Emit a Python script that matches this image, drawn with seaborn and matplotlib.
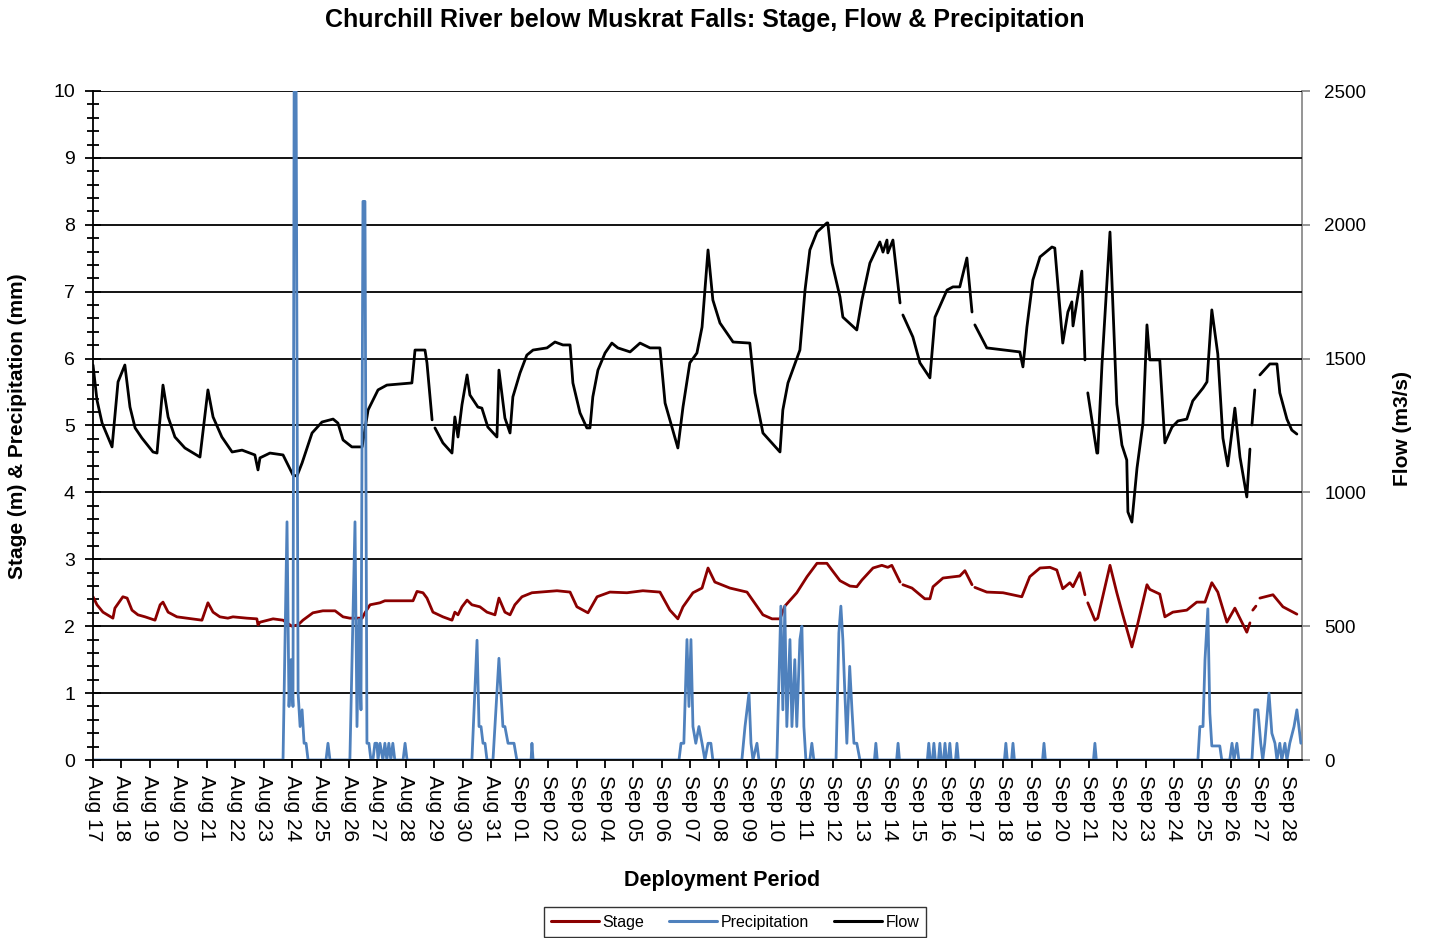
import numpy as np
import pandas as pd
import matplotlib
matplotlib.use("Agg")
import matplotlib.pyplot as plt
import seaborn as sns
from matplotlib.ticker import MultipleLocator
from matplotlib.lines import Line2D

# ---------------- data (day offsets from Aug 17 00:00) ----------------
tick_labels = ["Aug 17", "Aug 18", "Aug 19", "Aug 20", "Aug 21", "Aug 22", "Aug 23",
               "Aug 24", "Aug 25", "Aug 26", "Aug 27", "Aug 28", "Aug 29", "Aug 30",
               "Aug 31", "Sep 01", "Sep 02", "Sep 03", "Sep 04", "Sep 05", "Sep 06",
               "Sep 07", "Sep 08", "Sep 09", "Sep 10", "Sep 11", "Sep 12", "Sep 13",
               "Sep 14", "Sep 15", "Sep 16", "Sep 17", "Sep 18", "Sep 19", "Sep 20",
               "Sep 21", "Sep 22", "Sep 23", "Sep 24", "Sep 25", "Sep 26", "Sep 27",
               "Sep 28"]
tick_days = list(range(43))

nan = np.nan
flow_day = [0.00, 0.14, 0.32, 0.67, 0.88, 1.12, 1.30, 1.48, 1.72, 2.11, 2.25, 2.46, 2.64, 2.88,
            3.23, 3.76, 4.04, 4.22, 4.53, 4.89, 5.24, 5.69, 5.80, 5.87, 6.22, 6.68, 7.03, 7.17,
            7.35, 7.70, 8.05, 8.44, 8.61, 8.79, 9.10, 9.46, 9.67, 10.02, 10.33, 11.21, 11.32,
            11.67, 11.74, 11.92, 11.97, 12.02, 12.30, 12.62, 12.72, 12.83, 12.97, 13.15, 13.25,
            13.53, 13.67, 13.88, 14.20, 14.27, 14.48, 14.66, 14.76, 15.01, 15.25, 15.47, 15.96,
            16.24, 16.52, 16.77, 16.87, 17.12, 17.36, 17.47, 17.57, 17.75, 18.00, 18.24, 18.45,
            18.88, 19.23, 19.58, 19.93, 20.11, 20.56, 20.74, 20.98, 21.23, 21.41, 21.62, 21.79,
            22.04, 22.50, 23.09, 23.27, 23.55, 24.15, 24.25, 24.43, 24.85, 25.03, 25.20, 25.45,
            25.80, 25.83, 25.98, 26.26, 26.36, 26.85, 27.03, 27.31, 27.66, 27.77, 27.91, 27.94,
            28.12, 28.37, 28.42, 28.47, 28.82, 29.07, 29.42, 29.60, 30.02, 30.23, 30.47, 30.72,
            30.90, 30.95, 31.00, 31.42, 32.58, 32.69, 32.83, 33.04, 33.29, 33.71, 33.81, 34.09,
            34.27, 34.41, 34.45, 34.76, 34.87, 34.92, 34.97, 35.29, 35.32, 35.47, 35.75, 35.99,
            36.17, 36.34, 36.38, 36.52, 36.70, 36.91, 37.05, 37.15, 37.50, 37.68, 37.93, 38.14,
            38.45, 38.66, 39.02, 39.16, 39.33, 39.54, 39.72, 39.89, 40.14, 40.32, 40.56, 40.67,
            40.70, 40.74, 40.84, 40.92, 41.02, 41.37, 41.62, 41.72, 41.97, 42.14, 42.32]
flow_m3s = [1476, 1345, 1259, 1170, 1413, 1476, 1319, 1241, 1203, 1151, 1147, 1401, 1282, 1207,
            1166, 1132, 1383, 1282, 1207, 1151, 1158, 1140, 1084, 1129, 1147, 1140, 1065, 1061,
            1110, 1222, 1263, 1274, 1259, 1196, 1170, 1170, 1308, 1383, 1401, 1409, 1532,
            1532, 1484, 1271, nan, 1241, 1185, 1147, 1282, 1207, 1327, 1439, 1364,
            1319, 1315, 1244, 1207, 1457, 1278, 1222, 1357, 1446, 1513, 1532, 1540,
            1562, 1551, 1551, 1409, 1297, 1241, 1241, 1357, 1457, 1521, 1558, 1540,
            1525, 1558, 1540, 1540, 1334, 1166, 1319, 1484, 1521, 1618, 1906, 1719,
            1633, 1562, 1558, 1372, 1222, 1151, 1308, 1409, 1532, 1756, 1906, 1973,
            2007, 2007, 1857, 1730, 1655, 1607, 1719, 1857, 1936, 1898, 1943, 1895,
            1943, 1708, nan, 1663, 1581, 1484, 1428, 1655, 1756, 1768, 1768, 1876,
            1674, nan, 1626, 1540, 1525, 1469, 1618, 1794, 1880, 1917, 1913, 1558,
            1674, 1712, 1622, 1827, 1495, nan, 1372, 1147, 1147, 1480, 1973, 1330,
            1177, 1121, 927, 889, 1091, 1259, 1626, 1495, 1495, 1185, 1244, 1267,
            1274, 1342, 1390, 1413, 1682, 1517, 1203, 1099, 1315, 1132, 983, 1162,
            nan, 1252, 1383, nan, 1439, 1480, 1480, 1372, 1274, 1233, 1218]

stage_day = [0.00, 0.14, 0.35, 0.70, 0.77, 1.05, 1.20, 1.37, 1.58, 1.83, 2.18, 2.36, 2.46, 2.64,
             2.95, 3.30, 3.83, 4.04, 4.22, 4.46, 4.74, 4.92, 5.41, 5.76, 5.80, 5.87, 6.33, 6.68,
             6.99, 7.21, 7.38, 7.73, 8.08, 8.51, 8.79, 9.03, 9.46, 9.56, 9.74, 10.09, 10.26,
             11.25, 11.39, 11.60, 11.74, 11.95, 12.30, 12.62, 12.72, 12.83, 12.97, 13.15, 13.32,
             13.60, 13.85, 14.13, 14.27, 14.48, 14.66, 14.83, 15.08, 15.43, 16.31, 16.77, 17.01,
             17.40, 17.72, 18.17, 18.77, 19.33, 19.93, 20.28, 20.56, 20.74, 21.09, 21.41, 21.62,
             21.86, 22.39, 22.99, 23.55, 23.87, 24.15, 24.32, 24.74, 25.10, 25.45, 25.80, 26.01,
             26.26, 26.61, 26.85, 27.03, 27.42, 27.73, 27.94, 28.08, 28.37, 28.42, 28.47, 28.79,
             29.24, 29.42, 29.53, 29.88, 30.47, 30.65, 30.90, 30.95, 31.00, 31.42, 31.99, 32.65,
             32.93, 33.29, 33.64, 33.88, 34.09, 34.34, 34.45, 34.69, 34.87, 34.92, 34.97, 35.22,
             35.32, 35.75, 35.99, 36.20, 36.52, 36.70, 37.05, 37.15, 37.50, 37.68, 37.96, 38.45,
             38.80, 39.09, 39.33, 39.54, 39.86, 40.14, 40.56, 40.67, 40.70, 40.77, 40.88, 40.95,
             41.02, 41.48, 41.83, 42.32]
stage_m = [2.44, 2.32, 2.21, 2.12, 2.27, 2.44, 2.42, 2.24, 2.17, 2.14, 2.09, 2.32, 2.36, 2.21,
           2.14, 2.12, 2.09, 2.35, 2.21, 2.14, 2.12, 2.14, 2.12, 2.11, 2.02, 2.06, 2.11, 2.09,
           2.00, 2.02, 2.09, 2.20, 2.23, 2.23, 2.14, 2.12, 2.12, 2.20, 2.32, 2.35, 2.38,
           2.38, 2.52, 2.50, 2.42, 2.21, 2.14, 2.09, 2.21, 2.17, 2.29, 2.39, 2.32,
           2.29, 2.21, 2.17, 2.42, 2.21, 2.17, 2.32, 2.44, 2.50, 2.53, 2.51, 2.29,
           2.20, 2.44, 2.51, 2.50, 2.53, 2.51, 2.24, 2.11, 2.29, 2.50, 2.57, 2.87,
           2.66, 2.57, 2.51, 2.17, 2.11, 2.11, 2.30, 2.50, 2.74, 2.94, 2.94, 2.82,
           2.68, 2.60, 2.59, 2.69, 2.87, 2.91, 2.88, 2.91, 2.66, nan, 2.62, 2.57,
           2.41, 2.41, 2.59, 2.72, 2.75, 2.83, 2.62, nan, 2.58, 2.51, 2.50, 2.44,
           2.74, 2.87, 2.88, 2.84, 2.56, 2.65, 2.59, 2.80, 2.47, nan, 2.35, 2.09,
           2.12, 2.91, 2.50, 2.17, 1.69, 1.99, 2.62, 2.55, 2.48, 2.14, 2.21, 2.24,
           2.36, 2.36, 2.65, 2.51, 2.06, 2.27, 1.91, 2.05, nan, 2.24, 2.30, nan,
           2.42, 2.47, 2.29, 2.18]

precip_day = [0.00, 6.68, 6.82, 6.89, 6.96, 7.03, 7.07, 7.14, 7.21, 7.28, 7.35, 7.42, 7.49, 7.56,
              8.19, 8.26, 8.33,
              9.03, 9.21, 9.28, 9.35, 9.42, 9.49, 9.56, 9.63, 9.70, 9.77, 9.84, 9.91, 9.98,
              10.02, 10.09, 10.19, 10.26, 10.33, 10.40, 10.47, 10.54, 10.61, 10.90, 10.97, 11.04,
              13.32, 13.50, 13.57, 13.64, 13.71, 13.78, 13.85, 14.06, 14.27, 14.34, 14.41, 14.48,
              14.59, 14.69, 14.80, 14.90, 15.40, 15.43, 15.47,
              20.60, 20.67, 20.77, 20.88, 20.95, 21.02, 21.09, 21.19, 21.30, 21.41, 21.51, 21.62,
              21.72, 21.79,
              22.81, 22.92, 23.06, 23.13, 23.20, 23.34, 23.41,
              24.04, 24.18, 24.25, 24.32, 24.39, 24.50, 24.57, 24.67, 24.74, 24.85, 24.92, 24.99,
              25.06, 25.20, 25.27, 25.34,
              26.12, 26.22, 26.29, 26.36, 26.43, 26.50, 26.60, 26.68, 26.75, 26.85, 26.96,
              27.47, 27.52, 27.57, 28.25, 28.30, 28.35, 29.33, 29.38, 29.43, 29.51, 29.56, 29.61,
              29.72, 29.77, 29.82, 29.90, 29.95, 30.00, 30.07, 30.12, 30.17, 30.32, 30.37, 30.42,
              32.04, 32.09, 32.14, 32.29, 32.34, 32.39, 33.38, 33.43, 33.48, 35.17, 35.22, 35.27,
              38.84, 38.91, 39.02, 39.09, 39.19, 39.26, 39.33, 39.47, 39.61, 39.68, 39.96, 40.04,
              40.11, 40.21, 40.28, 40.74, 40.84, 40.95, 41.05, 41.12, 41.19, 41.34, 41.44, 41.55,
              41.62, 41.72, 41.79, 41.90, 41.97, 42.07, 42.22, 42.32, 42.39, 42.46]
precip_mm = [0, 0, 3.56, 0.8, 1.5, 0.8, 10.0, 10.0, 1.0, 0.5, 0.75, 0.25, 0.25, 0,
             0, 0.25, 0,
             0, 3.56, 0.5, 2.1, 0.75, 8.35, 8.35, 0.25, 0.25, 0, 0, 0.25, 0.25,
             0, 0.25, 0, 0.25, 0, 0.25, 0, 0.25, 0, 0, 0.25, 0,
             0, 1.79, 0.5, 0.5, 0.25, 0.25, 0, 0, 1.52, 1.0, 0.5, 0.5,
             0.25, 0.25, 0.25, 0, 0, 0.25, 0,
             0, 0.25, 0.25, 1.8, 0.8, 1.8, 0.5, 0.25, 0.5, 0.25, 0, 0.25,
             0.25, 0,
             0, 0.5, 1.0, 0.25, 0, 0.25, 0,
             0, 2.3, 0.75, 2.3, 0.5, 1.8, 0.5, 1.5, 0.5, 1.8, 2.0, 0.5,
             0, 0, 0.25, 0,
             0, 1.9, 2.3, 1.8, 1.0, 0.25, 1.4, 0.75, 0.25, 0.25, 0,
             0, 0.25, 0, 0, 0.25, 0, 0, 0.25, 0, 0, 0.25, 0,
             0, 0.25, 0, 0, 0.25, 0, 0, 0.25, 0, 0, 0.25, 0,
             0, 0.25, 0, 0, 0.25, 0, 0, 0.25, 0, 0, 0.25, 0,
             0, 0.5, 0.5, 1.5, 2.26, 0.7, 0.21, 0.21, 0.21, 0, 0, 0.25,
             0, 0.25, 0, 0, 0.75, 0.75, 0.25, 0, 0.25, 1.0, 0.4, 0.25,
             0, 0.25, 0, 0.25, 0, 0.25, 0.5, 0.75, 0.5, 0.25]
# ---------------------------------------------------------------------

def to_frame(days, vals):
    df = pd.DataFrame({"day": days, "val": vals})
    df["seg"] = df["val"].isna().cumsum()
    return df.dropna()

flow_df = to_frame(flow_day, flow_m3s)
stage_df = to_frame(stage_day, stage_m)
precip_df = to_frame(precip_day, precip_mm)

sns.set_style("white")
plt.rcParams["font.family"] = ["Liberation Sans", "DejaVu Sans"]
plt.rcParams["text.color"] = "black"
plt.rcParams["axes.labelcolor"] = "black"
plt.rcParams["xtick.color"] = "black"
plt.rcParams["ytick.color"] = "black"

W, H = 1429, 938
fig = plt.figure(figsize=(W / 100, H / 100), dpi=100)
ax1 = fig.add_axes([93 / W, (H - 760) / H, (1302 - 93) / W, (760 - 91) / H])
ax2 = ax1.twinx()
ax1.set_zorder(ax2.get_zorder() + 1)
ax1.patch.set_visible(False)

c_stage = "#8B0000"
c_precip = "#4F81BD"
c_flow = "#000000"

sns.lineplot(data=flow_df, x="day", y="val", units="seg", estimator=None, sort=False,
             ax=ax2, color=c_flow, lw=2.0)
sns.lineplot(data=stage_df, x="day", y="val", units="seg", estimator=None, sort=False,
             ax=ax1, color=c_stage, lw=2.0)
sns.lineplot(data=precip_df, x="day", y="val", units="seg", estimator=None, sort=False,
             ax=ax1, color=c_precip, lw=2.0)

ax1.set_xlim(0, 42.5)
ax1.set_ylim(0, 10)
ax2.set_ylim(0, 2500)

# grid
ax1.yaxis.grid(True, color="black", lw=1.3)
ax1.xaxis.grid(False)
ax2.grid(False)
ax1.set_axisbelow(True)

# spines
for s in ["top", "right"]:
    ax1.spines[s].set_visible(False)
for s in ["top", "left", "bottom"]:
    ax2.spines[s].set_visible(False)
ax1.spines["left"].set_color("black")
ax1.spines["left"].set_linewidth(1.3)
ax1.spines["bottom"].set_color("black")
ax1.spines["bottom"].set_linewidth(1.3)
ax2.spines["right"].set_color("#8c8c8c")
ax2.spines["right"].set_linewidth(1.3)

# left y ticks
ax1.yaxis.set_major_locator(MultipleLocator(1))
ax1.yaxis.set_minor_locator(MultipleLocator(0.2))
ax1.tick_params(axis="y", which="major", direction="inout", length=12, width=1.3,
                color="black", labelcolor="black", labelsize=14, pad=7, left=True)
ax1.tick_params(axis="y", which="minor", direction="inout", length=9, width=1.3,
                color="black", left=True)

# x ticks
ax1.set_xticks(tick_days)
ax1.set_xticklabels(tick_labels, rotation=-90)
ax1.tick_params(axis="x", which="major", direction="out", length=6, width=1.3,
                color="black", labelcolor="black", labelsize=15, pad=5, bottom=True)

# right y ticks
ax2.yaxis.set_major_locator(MultipleLocator(500))
ax2.tick_params(axis="y", which="major", direction="out", length=6, width=1.3,
                color="#8c8c8c", labelcolor="black", labelsize=13.5, pad=10, right=True)

ax1.set_xlabel("")
ax1.set_ylabel("")
ax2.set_ylabel("")

fig.text(705 / W, 1 - 20 / H, "Churchill River below Muskrat Falls: Stage, Flow & Precipitation",
         ha="center", va="center", fontsize=18, fontweight="bold", color="black")
fig.text(722 / W, 1 - 880 / H, "Deployment Period", ha="center", va="center",
         fontsize=15.5, fontweight="bold", color="black")
fig.text(18 / W, 1 - 426 / H, "Stage (m) & Precipitation (mm)", ha="center", va="center",
         rotation=90, fontsize=15, fontweight="bold", color="black")
fig.text(1403 / W, 1 - 428 / H, "Flow (m3/s)", ha="center", va="center",
         rotation=90, fontsize=15, fontweight="bold", color="black")

handles = [Line2D([], [], color=c_stage, lw=2.2),
           Line2D([], [], color=c_precip, lw=2.2),
           Line2D([], [], color=c_flow, lw=2.2)]
leg = fig.legend(handles, ["Stage", "Precipitation", "Flow"], loc="center",
                 bbox_to_anchor=(735 / W, 1 - 922 / H), ncol=3, frameon=True,
                 fancybox=False, edgecolor="black", fontsize=11.5, handlelength=3.0,
                 handletextpad=0.2, columnspacing=1.6, borderpad=0.45)
leg.get_frame().set_linewidth(1.0)
for t in leg.get_texts():
    t.set_color("black")

fig.savefig("out.png", dpi=100)
